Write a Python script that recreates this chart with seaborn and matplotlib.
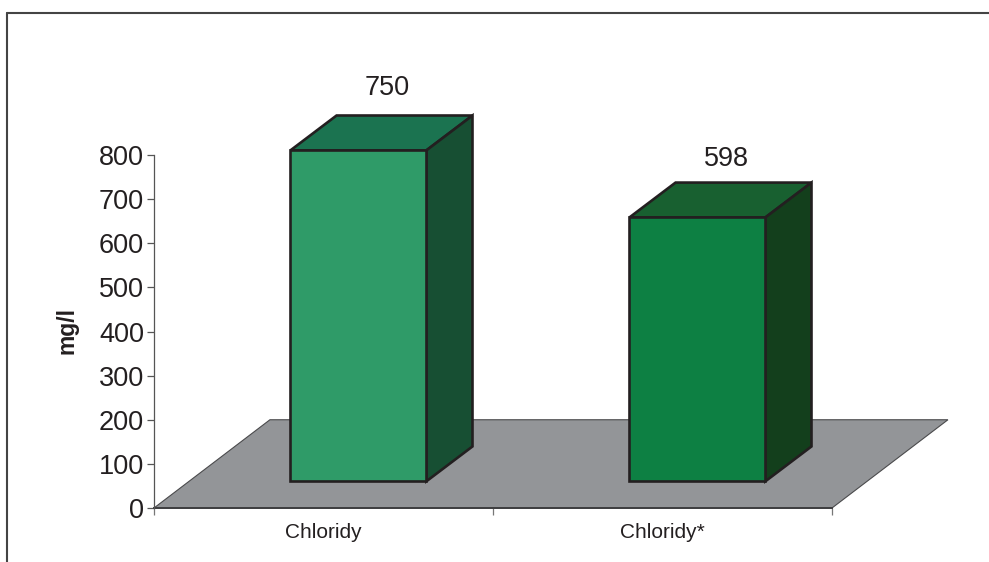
import matplotlib
matplotlib.use("Agg")
import matplotlib.pyplot as plt
from matplotlib.lines import Line2D
from matplotlib.patches import Polygon
import pandas as pd
import seaborn as sns

categories = ["Chloridy", "Chloridy*"]
values = [750, 598]
y_ticks = [0, 100, 200, 300, 400, 500, 600, 700, 800]

front_colors = ["#2F9B68", "#0D8043"]
top_colors = ["#1B7350", "#186030"]
side_colors = ["#174F33", "#133F1C"]
floor_color = "#939598"
ink = "#231F20"

# Oblique projection: depth of the floor and of each column, in axis units
FLOOR_DX, FLOOR_DY = 0.342, 200
BAR_DX, BAR_DY = 0.136, 79
BAR_WIDTH = 0.401

# Gap between a column's top and its value label, in points
label_gaps = [19.8, 17]

W, H = 989, 562
sns.set_theme(style="white")
plt.rcParams["font.family"] = ["Liberation Sans", "DejaVu Sans"]

fig = plt.figure(figsize=(W / 100, H / 100), dpi=100, facecolor="white")
ax = fig.add_axes([154 / W, (H - 508) / H, (832 - 154) / W, (508 - 155) / H])

data = pd.DataFrame({"category": categories, "value": values})
sns.barplot(data=data, x="category", y="value", hue="category", palette=front_colors,
            width=BAR_WIDTH, legend=False, saturation=1, ax=ax,
            edgecolor=ink, linewidth=1.9, zorder=3)

ax.set_xlim(-0.5, 1.5)
ax.set_ylim(0, 800)

# Floor of the 3D scene
ax.add_patch(Polygon([(-0.5, 0), (1.5, 0), (1.5 + FLOOR_DX, FLOOR_DY), (-0.5 + FLOOR_DX, FLOOR_DY)],
                     closed=True, facecolor=floor_color, edgecolor="#4A4A4C", linewidth=0.8,
                     clip_on=False, zorder=1))

# Columns stand in the middle of the floor's depth
shift_x = (FLOOR_DX - BAR_DX) / 2
lift_y = (FLOOR_DY - BAR_DY) / 2
for patch, value, top_c, side_c, gap in zip(ax.patches, values, top_colors, side_colors, label_gaps):
    patch.set_x(patch.get_x() + shift_x)
    patch.set_y(lift_y)
    patch.set_clip_on(False)
    x0 = patch.get_x()
    x1 = x0 + patch.get_width()
    y0 = patch.get_y()
    y1 = y0 + value
    face = dict(closed=True, edgecolor=ink, linewidth=1.9, joinstyle="miter", clip_on=False, zorder=2.5)
    ax.add_patch(Polygon([(x0, y1), (x1, y1), (x1 + BAR_DX, y1 + BAR_DY), (x0 + BAR_DX, y1 + BAR_DY)],
                         facecolor=top_c, **face))
    ax.add_patch(Polygon([(x1, y0), (x1, y1), (x1 + BAR_DX, y1 + BAR_DY), (x1 + BAR_DX, y0 + BAR_DY)],
                         facecolor=side_c, **face))
    ax.annotate(f"{value}", xy=((x0 + x1) / 2 + BAR_DX * 0.63, y1 + BAR_DY), xytext=(0, gap),
                textcoords="offset points", ha="center", va="center", fontsize=19.5, color=ink,
                annotation_clip=False)

for side in ("top", "right"):
    ax.spines[side].set_visible(False)
ax.spines["left"].set_color("#555555")
ax.spines["left"].set_linewidth(0.9)
ax.spines["bottom"].set_color("#3E3E40")
ax.spines["bottom"].set_linewidth(1.4)
ax.spines["bottom"].set_zorder(2)

ax.set_yticks(y_ticks)
ax.set_xticks([-0.5, 0.5, 1.5])
ax.set_xticklabels([])
ax.tick_params(axis="y", length=5.2, width=0.9, color="#555555", labelsize=19.5,
               labelcolor=ink, pad=2, left=True)
ax.tick_params(axis="x", length=5.2, width=0.9, color="#777777", bottom=True)
ax.set_xlabel("")
ax.set_ylabel("")

# Category names sit centred under each floor segment
for i, name in enumerate(categories):
    ax.annotate(name, xy=(i, 0), xytext=(0, -17.3), textcoords="offset points",
                ha="center", va="center", fontsize=15, color=ink, annotation_clip=False)

fig.text(67 / W, (H - 331) / H, "mg/l", rotation=90, fontsize=16.5, fontweight="bold",
         color=ink, ha="center", va="center")

# Open frame around the chart: top and left edges only
frame = dict(color="#444444", linewidth=1.5, transform=fig.transFigure)
fig.add_artist(Line2D([7 / W, 1], [(H - 13) / H, (H - 13) / H], **frame))
fig.add_artist(Line2D([7 / W, 7 / W], [0, (H - 13) / H], **frame))

fig.savefig("out.png", dpi=100, facecolor="white")
